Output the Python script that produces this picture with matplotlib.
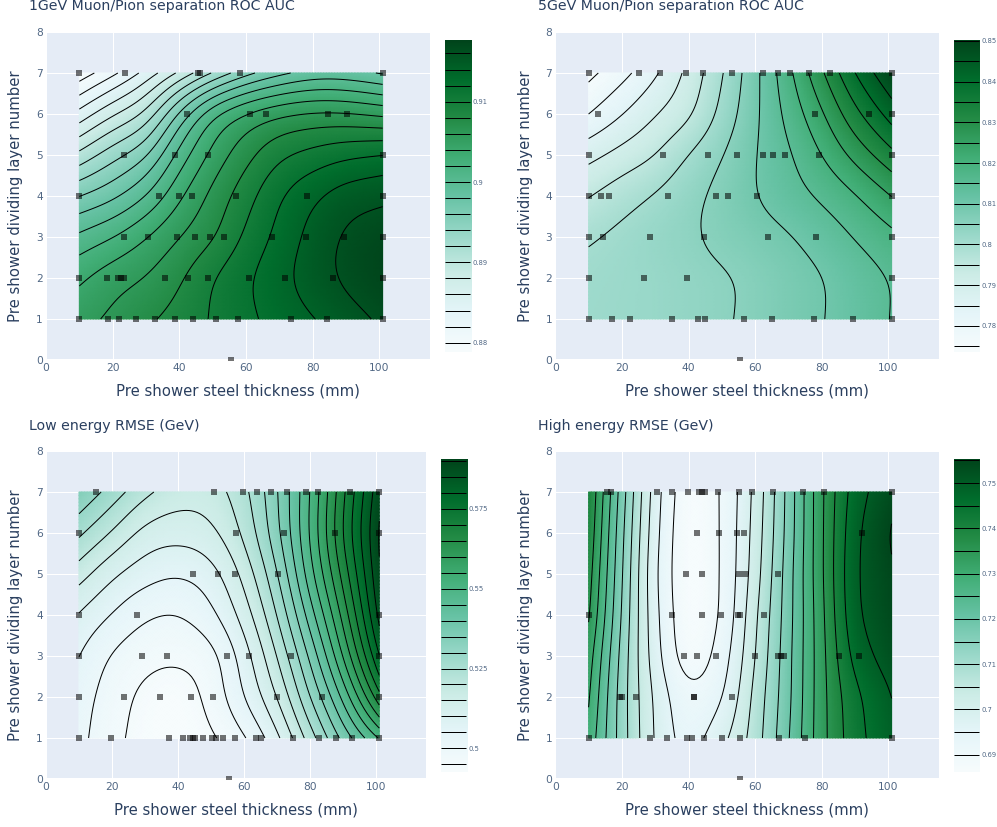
import numpy as np
import matplotlib
matplotlib.use("Agg")
import matplotlib.pyplot as plt
from matplotlib.colors import LinearSegmentedColormap, Normalize

W, H = 997, 827
INK = "#2a3f5f"
BG = "#e5ecf6"

grid_x = [10, 20, 30, 40, 50, 60, 70, 80, 90, 101]
grid_y = [1, 2, 3, 4, 5, 6, 7]

z_1gev = [
    [.9053, .9064, .9076, .9088, .9102, .9115, .9128, .9139, .9151, .9164],
    [.9037, .9052, .9061, .9077, .9100, .9117, .9134, .9150, .9164, .9175],
    [.9005, .9020, .9040, .9060, .9077, .9104, .9126, .9147, .9163, .9172],
    [.8960, .8975, .9000, .9037, .9066, .9092, .9118, .9136, .9150, .9155],
    [.8906, .8933, .8957, .9008, .9046, .9073, .9096, .9107, .9116, .9122],
    [.8847, .8878, .8905, .8966, .9018, .9044, .9058, .9064, .9063, .9056],
    [.8788, .8815, .8847, .8884, .8922, .8954, .8975, .8988, .8988, .8978],
]
z_5gev = [
    [.8015, .8020, .8025, .8035, .8045, .8060, .8080, .8098, .8120, .8152],
    [.8012, .8018, .8025, .8035, .8045, .8060, .8080, .8098, .8125, .8153],
    [.7995, .8012, .8028, .8043, .8062, .8078, .8096, .8122, .8152, .8187],
    [.7948, .7978, .8005, .8035, .8065, .8098, .8128, .8158, .8195, .8250],
    [.7885, .7918, .7950, .8002, .8048, .8098, .8143, .8200, .8265, .8336],
    [.7798, .7848, .7897, .7940, .8015, .8090, .8165, .8243, .8335, .8422],
    [.7737, .7783, .7843, .7914, .7996, .8086, .8186, .8292, .8400, .8495],
]
z_low = [
    [.5015, .4965, .4932, .4925, .4942, .4994, .5087, .5225, .5365, .5505],
    [.5024, .4975, .4938, .4925, .4966, .5050, .5150, .5300, .5460, .5685],
    [.5050, .4995, .4967, .4960, .4982, .5075, .5200, .5360, .5550, .5800],
    [.5095, .5047, .5007, .4999, .5037, .5122, .5250, .5425, .5613, .5865],
    [.5172, .5110, .5071, .5054, .5080, .5165, .5295, .5480, .5665, .5893],
    [.5260, .5195, .5134, .5119, .5138, .5210, .5335, .5505, .5700, .5905],
    [.5345, .5278, .5212, .5174, .5177, .5235, .5345, .5500, .5688, .5885],
]
z_high = [
    [.7285, .7125, .6995, .6935, .6985, .7075, .7196, .7332, .7429, .7490],
    [.7305, .7125, .6990, .6915, .6948, .7065, .7188, .7332, .7437, .7500],
    [.7325, .7133, .6973, .6878, .6925, .7050, .7185, .7333, .7465, .7525],
    [.7355, .7145, .6965, .6868, .6908, .7040, .7180, .7337, .7485, .7540],
    [.7372, .7154, .6960, .6865, .6905, .7027, .7177, .7342, .7490, .7545],
    [.7388, .7163, .6967, .6865, .6905, .7020, .7170, .7342, .7485, .7553],
    [.7400, .7175, .6975, .6870, .6905, .7014, .7167, .7341, .7473, .7535],
]

pts_1gev = [
    (7, [10, 23.7, 45.7, 46.2, 58.2, 101]),
    (6, [42.2, 61.2, 65.9, 84.6, 90.3]),
    (5, [23.4, 38.7, 48.6, 101]),
    (4, [10, 33.9, 39.9, 43.8, 57, 78.3, 101]),
    (3, [23.4, 30.6, 39.3, 44.7, 49.2, 53.4, 67.8, 78, 89.4, 101]),
    (2, [10, 18.3, 21.6, 22.5, 23.4, 35.7, 42.6, 48.6, 60.9, 71.7, 86.1, 101]),
    (1, [10, 18.6, 21.9, 27, 32.7, 38.7, 44.1, 51, 57.6, 73.5, 84.3, 101]),
    (0, [55.4]),
]
pts_5gev = [
    (7, [10, 25.2, 31.5, 39.3, 44.4, 53.1, 62.4, 66.9, 70.5, 76.2, 82.5, 101]),
    (6, [12.9, 78, 94.2, 101]),
    (5, [10, 32.4, 45.9, 54.6, 62.4, 65.4, 69, 79.2, 101]),
    (4, [10, 13.8, 16.2, 33.9, 48.3, 51.9, 60.6, 101]),
    (3, [10, 14.4, 28.5, 44.7, 63.9, 78.3, 101]),
    (2, [10, 26.7, 39.6, 101]),
    (1, [10, 17.1, 22.5, 35.1, 42.9, 45, 56.7, 65.1, 77.7, 89.4, 101]),
    (0, [55.5]),
]
pts_low = [
    (7, [15.1, 51, 59.8, 64, 68.3, 73.1, 78.9, 82.5, 92.1, 100.9]),
    (6, [10, 57.7, 72.2, 87.6, 101]),
    (5, [44.4, 52, 57.4, 70.4]),
    (4, [10, 27.5, 101]),
    (3, [10, 29, 36.6, 54.7, 61.6, 74.3, 101]),
    (2, [10, 23.6, 34.4, 43.8, 50.5, 70.1, 83.7, 101]),
    (1, [10, 19.6, 37.2, 41.4, 43.5, 44.4, 45.3, 47.7, 50.2, 51.4, 53.5, 57.4,
         63.7, 65.3, 74.9, 82.8, 87.9, 92.7, 101]),
    (0, [55.6]),
]
pts_high = [
    (7, [15.6, 16.8, 30.6, 35.1, 39.9, 43.2, 44.1, 45, 48.9, 55.2, 59.1, 65.4, 74.4, 80.7, 101]),
    (6, [42.6, 49.2, 54.6, 56.7, 92.1]),
    (5, [39.3, 44.1, 55.2, 57, 66.9]),
    (4, [10, 35.1, 44.1, 49.8, 54.9, 55.5, 62.7]),
    (3, [38.7, 42.6, 48.3, 60, 66.9, 67.8, 68.7, 85.2, 91.2]),
    (2, [19.5, 20, 24.3, 41.7, 41.7, 53.1]),
    (1, [10, 28.5, 33.6, 39.6, 41.1, 44.7, 50.1, 55.5, 67.2, 75, 101]),
    (0, [55.5]),
]

titles = ["1GeV Muon/Pion separation ROC AUC", "5GeV Muon/Pion separation ROC AUC",
          "Low energy RMSE (GeV)", "High energy RMSE (GeV)"]
xlabel = "Pre shower steel thickness (mm)"
ylabel = "Pre shower dividing layer number"
x_ticks = [0, 20, 40, 60, 80, 100]
y_ticks = [0, 1, 2, 3, 4, 5, 6, 7, 8]

panels = [
    dict(z=z_1gev, pts=pts_1gev, box=(46, 430, 32, 360), x100=379.3, cb=(445, 471, 40, 352),
         vr=(.87884, .91768), lv=(.880, .9165, .002), cbt=[.88, .89, .90, .91], tl=["0.88", "0.89", "0.9", "0.91"],
         tx=29, ty=6, sm=0.35),
    dict(z=z_5gev, pts=pts_5gev, box=(555.3, 938.7, 32, 360), x100=888.3, cb=(954, 980, 40, 352),
         vr=(.7736, .8502), lv=(.775, .8505, .005), cbt=[.78, .79, .80, .81, .82, .83, .84, .85],
         tl=["0.78", "0.79", "0.8", "0.81", "0.82", "0.83", "0.84", "0.85"], tx=538, ty=6, sm=0.3),
    dict(z=z_low, pts=pts_low, box=(46, 426, 451, 779), x100=376, cb=(441, 467, 459, 772),
         vr=(.4926, .5906), lv=(.495, .5905, .005), cbt=[.5, .525, .55, .575], tl=["0.5", "0.525", "0.55", "0.575"],
         tx=29, ty=426, sm=0.3),
    dict(z=z_high, pts=pts_high, box=(555.3, 938.7, 451, 779), x100=888.3, cb=(954, 980, 459, 772),
         vr=(.6862, .7553), lv=(.69, .7555, .005), cbt=[.69, .70, .71, .72, .73, .74, .75],
         tl=["0.69", "0.7", "0.71", "0.72", "0.73", "0.74", "0.75"], tx=538, ty=426, sm=0.2),
]

plotly_bugn = ["#f7fcfd", "#e5f5f9", "#ccece6", "#99d8c9", "#66c2a4", "#41ae76", "#238b45", "#006d2c", "#00441b"]
cmap = LinearSegmentedColormap.from_list("BuGn_plotly", plotly_bugn, N=512)


def catmull(a, n, axis):
    a = np.moveaxis(np.asarray(a, float), axis, 0)
    m = a.shape[0]
    pad = np.concatenate([[2 * a[0] - a[1]], a, [2 * a[-1] - a[-2]]])
    t = np.linspace(0, m - 1, (m - 1) * n + 1)
    i = np.minimum(t.astype(int), m - 2)
    u = (t - i).reshape((-1,) + (1,) * (a.ndim - 1))
    p0, p1, p2, p3 = pad[i], pad[i + 1], pad[i + 2], pad[i + 3]
    out = 0.5 * (2 * p1 + (p2 - p0) * u + (2 * p0 - 5 * p1 + 4 * p2 - p3) * u ** 2
                 + (3 * p1 - p0 - 3 * p2 + p3) * u ** 3)
    return np.moveaxis(out, 0, axis)


def soften(a, sigma, axis):
    """Remove the reading wobble of a field: gaussian filter with odd reflection at the edges."""
    a = np.moveaxis(a, axis, 0)
    r = int(3 * sigma) + 1
    k = np.exp(-0.5 * (np.arange(-r, r + 1) / sigma) ** 2)
    k /= k.sum()
    head = 2 * a[0] - a[1:r + 1][::-1]
    tail = 2 * a[-1] - a[-r - 1:-1][::-1]
    full = np.concatenate([head, a, tail])
    out = np.apply_along_axis(lambda c: np.convolve(c, k, mode="valid"), 0, full)
    return np.moveaxis(out, 0, axis)


def axes_px(fig, x0, x1, y0, y1):
    return fig.add_axes([x0 / W, 1 - y1 / H, (x1 - x0) / W, (y1 - y0) / H])


fig = plt.figure(figsize=(W / 100, H / 100), dpi=100, facecolor="white")
PX = 0.72
N = 12

for p, title in zip(panels, titles):
    x0, x1, y0, y1 = p["box"]
    ax = axes_px(fig, x0, x1, y0, y1)
    ax.set_facecolor(BG)
    scale = (p["x100"] - x0) / 100
    ax.set_xlim(0, (x1 - x0) / scale)
    ax.set_ylim(0, 8)
    for s in ax.spines.values():
        s.set_visible(False)
    ax.set_xticks(x_ticks)
    ax.set_yticks(y_ticks)
    ax.grid(True, color="white", lw=1.0 * PX, zorder=0)
    ax.set_axisbelow(True)
    ax.axhline(0, color="white", lw=2 * PX, zorder=1)
    ax.axvline(0, color="white", lw=2 * PX, zorder=1)
    ax.tick_params(length=0, labelsize=10.6 * PX, labelcolor="#506784", pad=3 * PX)

    zf = catmull(catmull(p["z"], N, 0), N, 1)
    zf = soften(soften(zf, p["sm"] * N, 0), p["sm"] * N, 1)
    xf = catmull(np.array(grid_x, float), N, 0)
    yf = catmull(np.array(grid_y, float), N, 0)
    norm = Normalize(*p["vr"])
    ax.pcolormesh(xf, yf, zf, cmap=cmap, norm=norm, shading="gouraud", zorder=2, rasterized=True)
    levels = np.arange(*p["lv"])
    ax.contour(xf, yf, zf, levels=levels, colors="black", linewidths=1.0 * PX, zorder=3)
    for yy, xs in p["pts"]:
        ax.scatter(xs, [yy] * len(xs), marker="s", s=(6.6 * PX) ** 2, c="black", alpha=0.55,
                   linewidths=0, zorder=4, clip_on=True)

    cx = (x0 + x1) / 2
    fig.text(cx / W, 1 - (y1 + 31.3) / H, xlabel, ha="center", va="center", color=INK, fontsize=14.9 * PX)
    fig.text((x0 - 30) / W, 1 - (y0 + y1) / 2 / H, ylabel, ha="center", va="center", rotation=90,
             color=INK, fontsize=14.9 * PX)
    fig.text(p["tx"] / W, 1 - p["ty"] / H, title, ha="left", va="center", color=INK, fontsize=14.15 * PX)

    c0, c1, b0, b1 = p["cb"]
    cax = axes_px(fig, c0, c1, b0, b1)
    vals = np.linspace(p["vr"][0], p["vr"][1], 400).reshape(-1, 1)
    cax.imshow(vals, aspect="auto", origin="lower", cmap=cmap, norm=norm,
               extent=[0, 1, p["vr"][0], p["vr"][1]], interpolation="bilinear")
    cax.hlines(levels, 0.01, 0.97, colors="black", lw=1.0 * PX)
    cax.set_xlim(0, 1)
    cax.set_ylim(*p["vr"])
    for s in cax.spines.values():
        s.set_visible(False)
    cax.set_xticks([])
    cax.yaxis.tick_right()
    cax.set_yticks(p["cbt"])
    cax.set_yticklabels(p["tl"])
    cax.tick_params(axis="y", length=0, labelsize=6.8 * PX, labelcolor="#506784", pad=1 * PX)

fig.savefig("out.png", dpi=100)
